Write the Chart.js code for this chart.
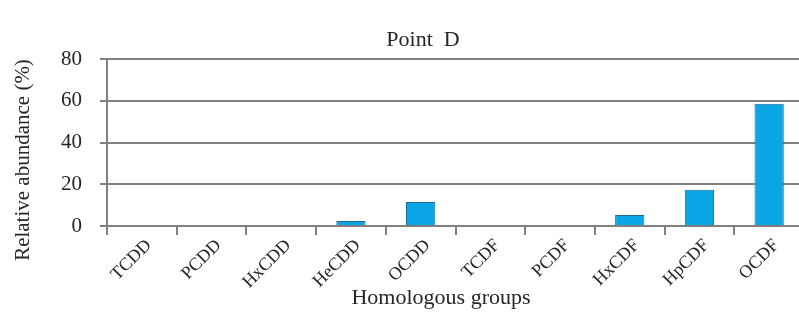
<!DOCTYPE html>
<html>
<head>
<meta charset="utf-8">
<script src="https://cdn.jsdelivr.net/npm/chart.js@4.4.1/dist/chart.umd.min.js"></script>
<style>
  html, body { margin: 0; padding: 0; background: #fff; overflow: hidden; }
  #wrap { width: 806px; height: 324px; }
</style>
</head>
<body>
<div id="wrap"><canvas id="chart" width="806" height="324"></canvas></div>
<script>
/* =========================
   Data
========================= */
const categories = ["TCDD", "PCDD", "HxCDD", "HeCDD", "OCDD", "TCDF", "PCDF", "HxCDF", "HpCDF", "OCDF"];
const abundance = [0, 0, 0, 2.4, 11.5, 0, 0, 5.3, 17.4, 58.6];
const yTicks = [0, 20, 40, 60, 80];

const chartTitle = "Point  D";
const xTitle = "Homologous groups";
const yTitle = "Relative abundance (%)";

const serif = "'Liberation Serif', 'DejaVu Serif', serif";
const gridColor = "#808080";
const textColor = "#262626";

// titles drawn at fixed spots
const titlesPlugin = {
  id: "titles",
  afterDraw(chart) {
    const ctx = chart.ctx;
    ctx.save();
    ctx.fillStyle = textColor;
    ctx.textAlign = "center";
    ctx.textBaseline = "middle";
    ctx.font = `22px ${serif}`;
    ctx.fillText(chartTitle, 423, 40);
    ctx.font = `22px ${serif}`;
    ctx.fillText(xTitle, 441, 298);
    ctx.font = `21px ${serif}`;
    ctx.translate(23, 160);
    ctx.rotate(-Math.PI / 2);
    ctx.fillText(yTitle, 0, 0);
    ctx.restore();
  }
};

new Chart(document.getElementById("chart"), {
  type: "bar",
  data: {
    labels: categories,
    datasets: [{
      data: abundance,
      backgroundColor: "#0ba5e6",
      borderColor: "#1b6e97",
      borderWidth: 1,
      barPercentage: 0.42,
      categoryPercentage: 1.0
    }]
  },
  options: {
    responsive: false,
    animation: false,
    layout: { padding: { top: 59, right: 2, left: 0, bottom: 0 } },
    plugins: {
      legend: { display: false },
      tooltip: { enabled: false },
      title: { display: false }
    },
    scales: {
      x: {
        offset: true,
        grid: {
          offset: true,
          drawOnChartArea: false,
          drawTicks: true,
          tickLength: 9,
          color: gridColor,
          lineWidth: 2
        },
        border: { color: gridColor, width: 2 },
        ticks: {
          color: textColor,
          font: { family: serif, size: 18 },
          maxRotation: 45,
          minRotation: 45,
          padding: 0,
          labelOffset: 7
        },
        afterFit(scale) { scale.height = 98; }
      },
      y: {
        min: 0,
        max: 80,
        afterBuildTicks(scale) { scale.ticks = yTicks.map(v => ({ value: v })); },
        grid: {
          color: gridColor,
          lineWidth: 2,
          drawTicks: true,
          tickLength: 7
        },
        border: { color: gridColor, width: 2 },
        ticks: {
          color: textColor,
          font: { family: serif, size: 21 },
          padding: 18
        },
        afterFit(scale) { scale.width = 107; }
      }
    }
  },
  plugins: [titlesPlugin]
});
</script>
</body>
</html>
